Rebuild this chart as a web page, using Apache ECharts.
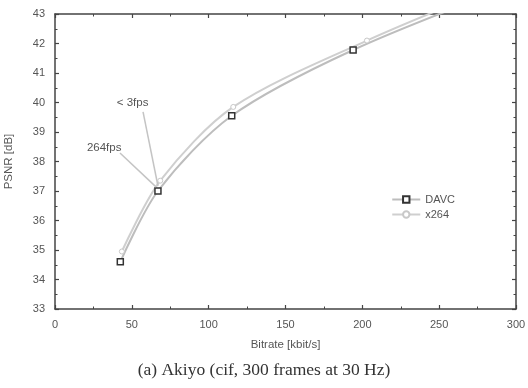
<!DOCTYPE html>
<html>
<head>
<meta charset="utf-8">
<script src="https://cdn.jsdelivr.net/npm/echarts@6/dist/echarts.min.js"></script>
<style>html,body{margin:0;padding:0;background:#fff}#c{width:528px;height:388px}</style>
</head>
<body>
<div id="c"></div>
<script>
const davcX = [42.5, 67, 115, 194, 300];
const davcY = [34.6, 37.0, 39.55, 41.78, 44.0];
const x264X = [43.5, 68.5, 116, 203, 300];
const x264Y = [34.95, 37.35, 39.85, 42.1, 44.2];
const xTicks = [0, 50, 100, 150, 200, 250, 300];
const yTicks = [33, 34, 35, 36, 37, 38, 39, 40, 41, 42, 43];
const annotations = [
  {text: '< 3fps', label: [50.5, 40.0], from: [57.3, 39.68], to: [67, 37.17]},
  {text: '264fps', label: [32, 38.48], from: [42.3, 38.29], to: [65.7, 37.14]}
];

const pairs = (xs, ys) => xs.map((x, i) => [x, ys[i]]);
const font = 'Liberation Sans';
const axisCol = '#444';
const labelCol = '#555';

const chart = echarts.init(document.getElementById('c'));
const axisCommon = {
  axisLine: {show: true, onZero: false, lineStyle: {color: axisCol, width: 1.5}},
  axisTick: {show: true, inside: true, length: 4, lineStyle: {color: axisCol, width: 1.2}},
  minorTick: {show: true, splitNumber: 2, length: 2.5, lineStyle: {color: axisCol, width: 1}},
  splitLine: {show: false}
};
chart.setOption({
  animation: false,
  backgroundColor: '#fff',
  grid: {left: 55, right: 12, top: 14, bottom: 79, containLabel: false, outerBoundsMode: 'none'},
  title: {
    text: '(a) Akiyo (cif, 300 frames at 30 Hz)',
    left: 'center', bottom: 4,
    textStyle: {fontFamily: 'Liberation Serif', fontSize: 17.5, fontWeight: 'normal', color: '#333'}
  },
  legend: {
    right: 68, top: 189, orient: 'vertical', itemGap: 4, itemWidth: 28, itemHeight: 8,
    textStyle: {fontFamily: font, fontSize: 11, color: labelCol},
    data: ['DAVC', 'x264']
  },
  xAxis: [
    Object.assign({}, axisCommon, {
      type: 'value', min: xTicks[0], max: xTicks[xTicks.length - 1], interval: 50,
      name: 'Bitrate [kbit/s]', nameLocation: 'middle', nameGap: 30,
      nameTextStyle: {fontFamily: font, fontSize: 11.5, color: labelCol},
      axisLabel: {fontFamily: font, fontSize: 11, color: labelCol, margin: 10}
    }),
    Object.assign({}, axisCommon, {
      type: 'value', position: 'top', min: xTicks[0], max: xTicks[xTicks.length - 1], interval: 50,
      axisLabel: {show: false}
    })
  ],
  yAxis: [
    Object.assign({}, axisCommon, {
      type: 'value', min: yTicks[0], max: yTicks[yTicks.length - 1], interval: 1,
      name: 'PSNR [dB]', nameLocation: 'middle', nameGap: 40, nameRotate: 90,
      nameTextStyle: {fontFamily: font, fontSize: 11.5, color: labelCol},
      axisLabel: {fontFamily: font, fontSize: 11, color: labelCol, margin: 10}
    }),
    Object.assign({}, axisCommon, {
      type: 'value', position: 'right', min: yTicks[0], max: yTicks[yTicks.length - 1], interval: 1,
      axisLabel: {show: false}
    })
  ],
  series: [
    {
      name: 'x264', type: 'line', smooth: 0.3, clip: true,
      data: pairs(x264X, x264Y),
      symbol: 'circle', symbolSize: 5,
      itemStyle: {color: '#fff', borderColor: '#c8c8c8', borderWidth: 1},
      lineStyle: {color: '#cfcfcf', width: 2}
    },
    {
      name: 'DAVC', type: 'line', smooth: 0.3, clip: true,
      data: pairs(davcX, davcY),
      symbol: 'rect', symbolSize: 6,
      itemStyle: {color: '#fff', borderColor: '#333', borderWidth: 1.5},
      lineStyle: {color: '#bdbdbd', width: 2},
      z: 3,
      markLine: {
        silent: true, symbol: ['none', 'none'],
        lineStyle: {color: '#c4c4c4', width: 1.5, type: 'solid'},
        label: {show: false},
        data: annotations.map(a => [{coord: a.from}, {coord: a.to}])
      },
      markPoint: {
        silent: true, symbol: 'circle', symbolSize: 0,
        label: {show: true, fontFamily: font, fontSize: 11.5, color: labelCol, position: 'inside'},
        data: annotations.map(a => ({coord: a.label, value: a.text, label: {formatter: a.text}}))
      }
    }
  ]
});
</script>
</body>
</html>
